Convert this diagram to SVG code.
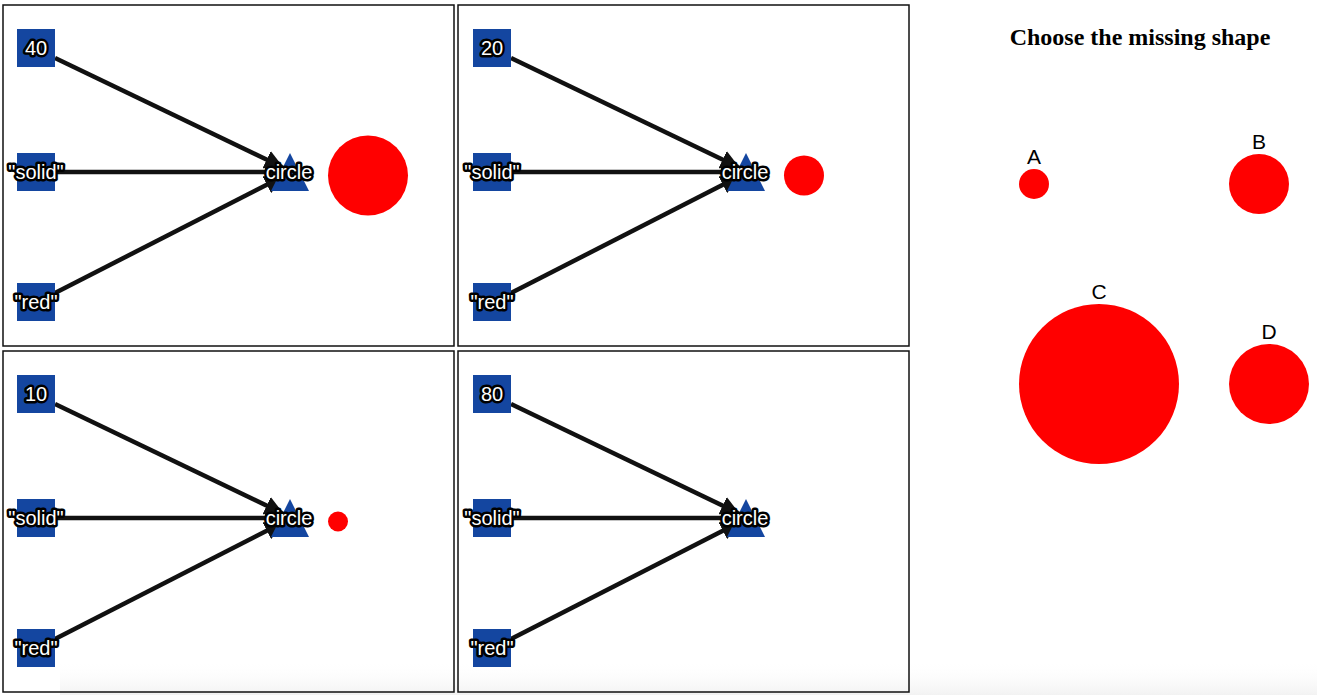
<svg xmlns="http://www.w3.org/2000/svg" width="1317" height="695" viewBox="0 0 1317 695">
<defs>
<marker id="arr" viewBox="0 0 10 10" refX="9" refY="5" markerWidth="4.2" markerHeight="4.2" orient="auto" markerUnits="strokeWidth">
<path d="M0,0 L10,5 L0,10 z" fill="#111"/>
</marker>
<linearGradient id="shade" x1="0" y1="0" x2="0" y2="1">
<stop offset="0" stop-color="#fff" stop-opacity="0"/>
<stop offset="1" stop-color="#ededed" stop-opacity="1"/>
</linearGradient>
<style>
.panel{fill:none;stroke:#111;stroke-width:1.5}
.sq{fill:#1446a0}
.tri{fill:#1446a0}
.lbl{font-family:"Liberation Sans",Arial,sans-serif;font-size:20px;fill:#fff;stroke:#000;stroke-width:5;paint-order:stroke;stroke-linejoin:round;text-anchor:middle;dominant-baseline:central}
.edge{stroke:#111;stroke-width:4.5;fill:none;marker-end:url(#arr)}
.ball{fill:#ff0000}
.opt{font-family:"Liberation Sans",Arial,sans-serif;font-size:21px;fill:#000;text-anchor:middle}
.title{font-family:"Liberation Serif","Times New Roman",serif;font-size:24px;font-weight:bold;fill:#000;text-anchor:middle}
</style>
</defs>
<rect x="0" y="0" width="1317" height="695" fill="#fff"/>
<rect x="60" y="660" width="1257" height="35" fill="url(#shade)" opacity="0.7"/>
<g id="panels">
<rect class="panel" x="3" y="5" width="451" height="341"/>
<rect class="panel" x="458" y="5" width="451" height="341"/>
<rect class="panel" x="3" y="351" width="451" height="341"/>
<rect class="panel" x="458" y="351" width="451" height="341"/>
</g>
<g id="connectors">
<path class="edge" d="M55,58 L282,167"/>
<path class="edge" d="M55,172 L282,172"/>
<path class="edge" d="M55,293 L282,177"/>
<path class="edge" d="M511,58 L738,167"/>
<path class="edge" d="M511,172 L738,172"/>
<path class="edge" d="M511,293 L738,177"/>
<path class="edge" d="M55,404 L282,513"/>
<path class="edge" d="M55,518 L282,518"/>
<path class="edge" d="M55,639 L282,523"/>
<path class="edge" d="M511,404 L738,513"/>
<path class="edge" d="M511,518 L738,518"/>
<path class="edge" d="M511,639 L738,523"/>
</g>
<g id="p1-n40"><rect class="sq" x="17" y="29" width="38" height="38"/><text class="lbl" x="36" y="48">40</text></g>
<g id="p1-solid"><rect class="sq" x="17" y="153" width="38" height="38"/><text class="lbl" x="36" y="172">"solid"</text></g>
<g id="p1-red"><rect class="sq" x="17" y="283" width="38" height="38"/><text class="lbl" x="36" y="302">"red"</text></g>
<g id="p1-circle"><path class="tri" d="M290,153 L309,191 L271,191 z"/><text class="lbl" x="289" y="172">circle</text></g>
<g id="p1-ball"><circle class="ball" cx="368" cy="175.5" r="40"/></g>
<g id="p2-n20"><rect class="sq" x="473" y="29" width="38" height="38"/><text class="lbl" x="492" y="48">20</text></g>
<g id="p2-solid"><rect class="sq" x="473" y="153" width="38" height="38"/><text class="lbl" x="492" y="172">"solid"</text></g>
<g id="p2-red"><rect class="sq" x="473" y="283" width="38" height="38"/><text class="lbl" x="492" y="302">"red"</text></g>
<g id="p2-circle"><path class="tri" d="M746,153 L765,191 L727,191 z"/><text class="lbl" x="745" y="172">circle</text></g>
<g id="p2-ball"><circle class="ball" cx="804" cy="175.5" r="20"/></g>
<g id="p3-n10"><rect class="sq" x="17" y="375" width="38" height="38"/><text class="lbl" x="36" y="394">10</text></g>
<g id="p3-solid"><rect class="sq" x="17" y="499" width="38" height="38"/><text class="lbl" x="36" y="518">"solid"</text></g>
<g id="p3-red"><rect class="sq" x="17" y="629" width="38" height="38"/><text class="lbl" x="36" y="648">"red"</text></g>
<g id="p3-circle"><path class="tri" d="M290,499 L309,537 L271,537 z"/><text class="lbl" x="289" y="518">circle</text></g>
<g id="p3-ball"><circle class="ball" cx="338" cy="521.5" r="10"/></g>
<g id="p4-n80"><rect class="sq" x="473" y="375" width="38" height="38"/><text class="lbl" x="492" y="394">80</text></g>
<g id="p4-solid"><rect class="sq" x="473" y="499" width="38" height="38"/><text class="lbl" x="492" y="518">"solid"</text></g>
<g id="p4-red"><rect class="sq" x="473" y="629" width="38" height="38"/><text class="lbl" x="492" y="648">"red"</text></g>
<g id="p4-circle"><path class="tri" d="M746,499 L765,537 L727,537 z"/><text class="lbl" x="745" y="518">circle</text></g>
<g id="question">
<text class="title" x="1140" y="45">Choose the missing shape</text>
</g>
<g id="optA"><text class="opt" x="1034" y="164">A</text><circle class="ball" cx="1034" cy="184" r="15"/></g>
<g id="optB"><text class="opt" x="1259" y="149">B</text><circle class="ball" cx="1259" cy="184" r="30"/></g>
<g id="optC"><text class="opt" x="1099" y="299">C</text><circle class="ball" cx="1099" cy="384" r="80"/></g>
<g id="optD"><text class="opt" x="1269" y="339">D</text><circle class="ball" cx="1269" cy="384" r="40"/></g>
</svg>
